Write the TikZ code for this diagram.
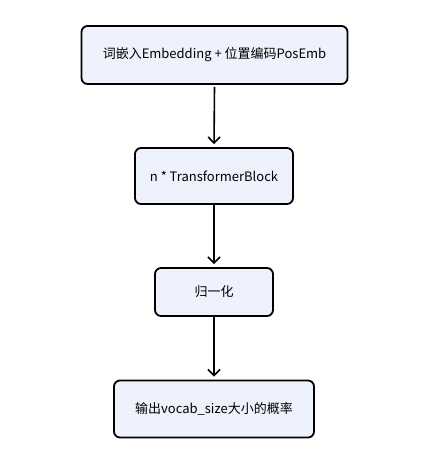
\documentclass[tikz,border=0pt]{standalone}
\usepackage{fontspec}
\setmainfont{Noto Sans CJK SC}
\usetikzlibrary{arrows.meta}
\definecolor{boxfill}{HTML}{EEF2FC}
\tikzset{
  px/.style={x=1pt,y=-1pt},
  flowbox/.style={draw=black,line width=1.8pt,fill=boxfill,rounded corners=6pt,inner sep=0pt,font=\fontsize{13}{15}\selectfont},
  flowarrow/.style={line width=1.6pt,-{Straight Barb[length=6pt,width=12pt,line width=1.6pt]},shorten >=3pt}
}
\begin{document}
\begin{tikzpicture}[px]
\useasboundingbox (0,0) rectangle (444,467);
\node[flowbox,minimum width=266pt,minimum height=58pt] (emb) at (214.5,55) {词嵌入Embedding + 位置编码PosEmb};
\node[flowbox,minimum width=158pt,minimum height=56pt] (tb) at (214,176) {n * TransformerBlock};
\node[flowbox,minimum width=118pt,minimum height=48pt] (norm) at (214,292) {归一化};
\node[flowbox,minimum width=200pt,minimum height=57pt] (out) at (214,409) {输出vocab\_size大小的概率};
\draw[flowarrow] (emb.south) ++(0,2) -- (tb.north);
\draw[flowarrow] (tb) -- (norm);
\draw[flowarrow] (norm) -- (out);
\end{tikzpicture}
\end{document}
